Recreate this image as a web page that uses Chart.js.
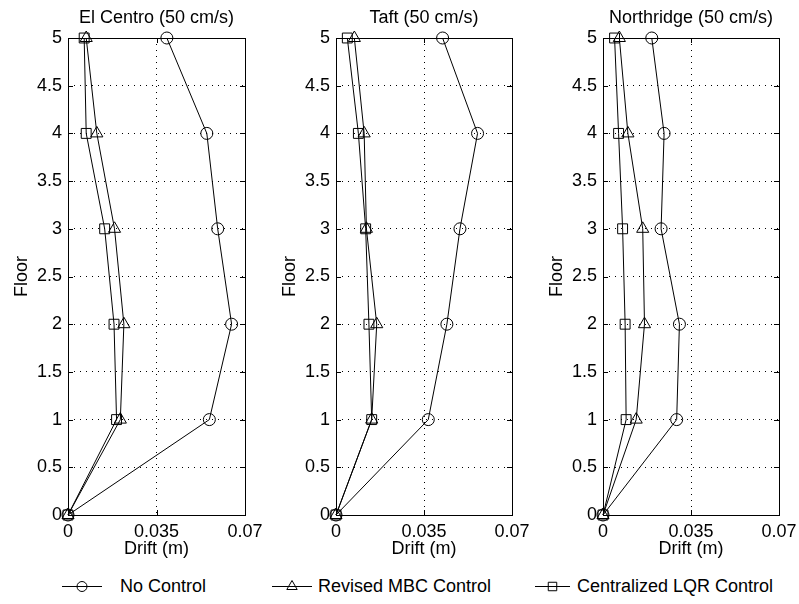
<!DOCTYPE html>
<html>
<head>
<meta charset="utf-8">
<script src="https://cdn.jsdelivr.net/npm/chart.js@4.4.1/dist/chart.umd.min.js"></script>
<style>
  body { margin: 0; background: #fff; width: 799px; height: 604px; position: relative; overflow: hidden;
         font-family: "Liberation Sans", Arial, sans-serif; }
  .panel { position: absolute; top: 0; height: 560px; }
  .legend-item { position: absolute; top: 576px; height: 20px; }
  .legend-item canvas { position: absolute; top: 0; }
  .legend-item span { position: absolute; top: 0; font-size: 18px; line-height: 20px; white-space: nowrap; color: #000; }
</style>
</head>
<body>
<div class="panel" style="left:0;width:265px"><canvas id="c0"></canvas></div>
<div class="panel" style="left:268px;width:264px"><canvas id="c1"></canvas></div>
<div class="panel" style="left:535px;width:264px"><canvas id="c2"></canvas></div>
<div id="legend"></div>

<script>
// floors and axis ticks
const floors = [0, 1, 2, 3, 4, 5];
const yTicks = [0, 0.5, 1, 1.5, 2, 2.5, 3, 3.5, 4, 4.5, 5];
const xTicks = [0, 0.035, 0.07];

const titles = ['El Centro (50 cm/s)', 'Taft (50 cm/s)', 'Northridge (50 cm/s)'];
const seriesNames = ['No Control', 'Revised MBC Control', 'Centralized LQR Control'];
const pointStyles = ['circle', 'triangle', 'rect'];

// drift (m) per floor 0..5
const elCentroNoControl = [0, 0.0559, 0.0647, 0.0592, 0.0549, 0.0391];
const elCentroMBC       = [0, 0.0207, 0.0221, 0.0184, 0.0114, 0.0072];
const elCentroLQR       = [0, 0.0192, 0.0182, 0.0145, 0.0072, 0.0064];

const taftNoControl = [0, 0.0367, 0.0441, 0.0493, 0.0563, 0.0424];
const taftMBC       = [0, 0.0142, 0.0162, 0.0121, 0.0112, 0.0073];
const taftLQR       = [0, 0.0142, 0.0131, 0.0118, 0.0089, 0.0045];

const northridgeNoControl = [0, 0.0293, 0.0304, 0.0231, 0.0243, 0.0194];
const northridgeMBC       = [0, 0.0132, 0.0165, 0.0158, 0.0099, 0.0065];
const northridgeLQR       = [0, 0.0092, 0.0088, 0.0078, 0.0062, 0.0046];

const panels = [
  [elCentroNoControl, elCentroMBC, elCentroLQR],
  [taftNoControl, taftMBC, taftLQR],
  [northridgeNoControl, northridgeMBC, northridgeLQR]
];

Chart.defaults.font.family = '"Liberation Sans", Arial, sans-serif';
Chart.defaults.color = '#000';

const markerRadius = { circle: 6, triangle: 7, rect: 7 };

// box around the axes with small inward ticks on every side
const boxPlugin = {
  id: 'box',
  afterDraw(chart) {
    const { ctx, chartArea: a, scales } = chart;
    ctx.save();
    ctx.strokeStyle = '#000';
    ctx.lineWidth = 1;
    ctx.strokeRect(Math.round(a.left) + 0.5, Math.round(a.top) + 0.5,
                   Math.round(a.right - a.left), Math.round(a.bottom - a.top));
    ctx.beginPath();
    const tl = 5;
    scales.x.ticks.forEach(t => {
      const px = Math.round(scales.x.getPixelForValue(t.value)) + 0.5;
      ctx.moveTo(px, a.bottom); ctx.lineTo(px, a.bottom - tl);
      ctx.moveTo(px, a.top); ctx.lineTo(px, a.top + tl);
    });
    scales.y.ticks.forEach(t => {
      const py = Math.round(scales.y.getPixelForValue(t.value)) + 0.5;
      ctx.moveTo(a.left, py); ctx.lineTo(a.left + tl, py);
      ctx.moveTo(a.right, py); ctx.lineTo(a.right - tl, py);
    });
    ctx.stroke();
    ctx.restore();
  }
};

panels.forEach((series, i) => {
  const datasets = series.map((vals, k) => ({
    label: seriesNames[k],
    data: vals.map((v, j) => ({ x: v, y: floors[j] })),
    showLine: true,
    borderColor: '#000',
    borderWidth: 1,
    backgroundColor: 'rgba(0,0,0,0)',
    pointStyle: pointStyles[k],
    pointRadius: markerRadius[pointStyles[k]],
    pointBorderWidth: 1,
    pointBorderColor: '#000',
    pointBackgroundColor: 'rgba(0,0,0,0)',
    clip: false
  }));

  new Chart(document.getElementById('c' + i), {
    type: 'scatter',
    data: { datasets: datasets },
    options: {
      responsive: true,
      maintainAspectRatio: false,
      animation: false,
      layout: { padding: { left: 0, right: 20, top: 0, bottom: 0 } },
      plugins: {
        legend: { display: false },
        tooltip: { enabled: false },
        title: {
          display: true,
          text: titles[i],
          fullSize: false,
          font: { size: 18, weight: 'normal' },
          color: '#000',
          padding: { top: 7, bottom: 9.4 }
        }
      },
      scales: {
        x: {
          type: 'linear',
          min: 0,
          max: 0.07,
          afterBuildTicks: s => { s.ticks = xTicks.map(v => ({ value: v })); },
          afterFit: s => { s.height = 45; s.paddingLeft = 0; s.paddingRight = 0; },
          ticks: { font: { size: 18 }, padding: 6, maxRotation: 0, callback: v => String(v) },
          grid: { color: '#000', lineWidth: 1, drawTicks: false },
          border: { display: false, dash: [1, 5] },
          title: { display: true, text: 'Drift (m)', font: { size: 18 }, padding: { top: 0, bottom: 0 } }
        },
        y: {
          type: 'linear',
          min: 0,
          max: 5,
          afterBuildTicks: s => { s.ticks = yTicks.map(v => ({ value: v })); },
          afterFit: s => { s.width = 68; s.paddingTop = 0; s.paddingBottom = 0; },
          ticks: { font: { size: 18 }, padding: 6, callback: v => String(v) },
          grid: { color: '#000', lineWidth: 1, drawTicks: false },
          border: { display: false, dash: [1, 5] },
          title: { display: true, text: 'Floor', font: { size: 18 }, padding: { top: 11, bottom: 0 } }
        }
      }
    },
    plugins: [boxPlugin]
  });
});

// legend below the three panels
const legendItems = [
  { lineFrom: 62, lineTo: 102, textAt: 120 },
  { lineFrom: 272, lineTo: 312, textAt: 318 },
  { lineFrom: 535, lineTo: 570, textAt: 577 }
];
const legend = document.getElementById('legend');
legendItems.forEach((it, k) => {
  const item = document.createElement('div');
  item.className = 'legend-item';
  item.style.left = it.lineFrom + 'px';
  const cv = document.createElement('canvas');
  const w = it.lineTo - it.lineFrom;
  cv.width = w; cv.height = 20;
  cv.style.left = '0px';
  const ctx = cv.getContext('2d');
  ctx.strokeStyle = '#000';
  ctx.fillStyle = 'rgba(0,0,0,0)';
  ctx.lineWidth = 1;
  ctx.beginPath(); ctx.moveTo(0, 10.5); ctx.lineTo(w, 10.5); ctx.stroke();
  Chart.helpers.drawPoint(ctx, {
    pointStyle: pointStyles[k], radius: markerRadius[pointStyles[k]] - 1, borderWidth: 1
  }, w / 2, 10.5);
  const span = document.createElement('span');
  span.textContent = seriesNames[k];
  span.style.left = (it.textAt - it.lineFrom) + 'px';
  item.appendChild(cv);
  item.appendChild(span);
  legend.appendChild(item);
});
</script>
</body>
</html>
